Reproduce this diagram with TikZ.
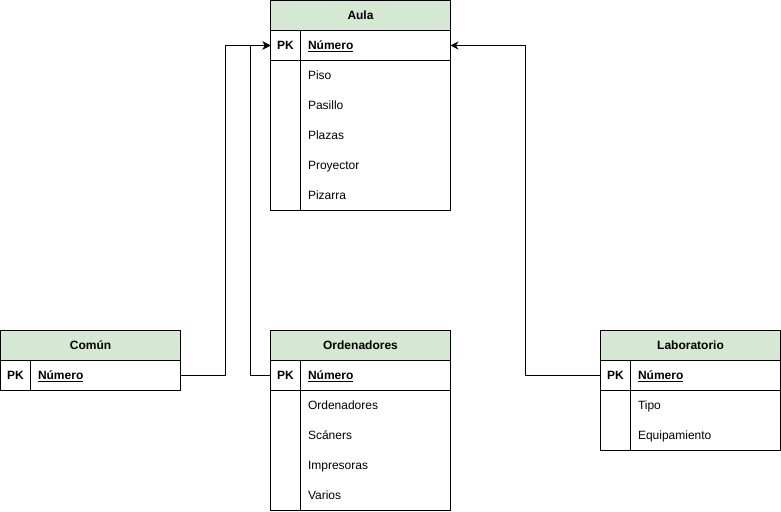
\documentclass[tikz,border=0pt]{standalone}
\usepackage{fontspec}
\setmainfont{Liberation Sans}
\usetikzlibrary{arrows.meta}
\definecolor{hdrgreen}{HTML}{D5E8D4}
\tikzset{
  x=1pt, y=-1pt,
  every node/.style={font=\fontsize{12}{14}\selectfont, inner sep=0pt, outer sep=0pt,
    text height=9pt, text depth=2.5pt},
  hdr/.style={draw, fill=hdrgreen, minimum width=180, minimum height=30, anchor=north west,
    text height=10pt, text depth=1.5pt, font=\fontsize{12}{14}\selectfont\bfseries},
  pkrow/.style={draw, minimum width=180, minimum height=30, anchor=north west},
  pk/.style={font=\fontsize{12}{14}\selectfont\bfseries},
  key/.style={anchor=west, font=\fontsize{12}{14}\selectfont\bfseries},
  attr/.style={anchor=west},
  fk/.style={line width=0.8pt, -{Stealth[length=8pt,width=8pt]}},
}
\newcommand{\keytext}{\underline{Número}}
\begin{document}
\begin{tikzpicture}[line width=0.8pt]
\useasboundingbox (0,0) rectangle (781,511);

% Aula
\node[hdr] (aula-h) at (270.5,0.5) {Aula};
\node[pkrow] (aula-pk) at (270.5,30.5) {};
\node[pk] (aula-pkl) at (285.5,46) {PK};
\node[key] (aula-key) at (308,46) {\keytext};
\draw (270.5,60.5) rectangle (450.5,210.5);
\draw (300.5,30.5) -- (300.5,210.5);
\node[attr] (aula-a1) at (308,76) {Piso};
\node[attr] (aula-a2) at (308,106) {Pasillo};
\node[attr] (aula-a3) at (308,136) {Plazas};
\node[attr] (aula-a4) at (308,166) {Proyector};
\node[attr] (aula-a5) at (308,196) {Pizarra};

% Común
\node[hdr] (comun-h) at (0.5,330.5) {Común};
\node[pkrow] (comun-pk) at (0.5,360.5) {};
\node[pk] (comun-pkl) at (15.5,376) {PK};
\node[key] (comun-key) at (38,376) {\keytext};
\draw (30.5,360.5) -- (30.5,390.5);

% Ordenadores
\node[hdr] (ord-h) at (270.5,330.5) {Ordenadores};
\node[pkrow] (ord-pk) at (270.5,360.5) {};
\node[pk] (ord-pkl) at (285.5,376) {PK};
\node[key] (ord-key) at (308,376) {\keytext};
\draw (270.5,390.5) rectangle (450.5,510.5);
\draw (300.5,360.5) -- (300.5,510.5);
\node[attr] (ord-a1) at (308,406) {Ordenadores};
\node[attr] (ord-a2) at (308,436) {Scáners};
\node[attr] (ord-a3) at (308,466) {Impresoras};
\node[attr] (ord-a4) at (308,496) {Varios};

% Laboratorio
\node[hdr] (lab-h) at (600.5,330.5) {Laboratorio};
\node[pkrow] (lab-pk) at (600.5,360.5) {};
\node[pk] (lab-pkl) at (615.5,376) {PK};
\node[key] (lab-key) at (638,376) {\keytext};
\draw (600.5,390.5) rectangle (780.5,450.5);
\draw (630.5,360.5) -- (630.5,450.5);
\node[attr] (lab-a1) at (638,406) {Tipo};
\node[attr] (lab-a2) at (638,436) {Equipamiento};

% Foreign key references to Aula
\draw[fk] (comun-pk.east) -- ++(45,0) |- (aula-pk.west);
\draw[fk] (ord-pk.west) -- ++(-20,0) |- (aula-pk.west);
\draw[fk] (lab-pk.west) -- ++(-75,0) |- (aula-pk.east);
\end{tikzpicture}
\end{document}
